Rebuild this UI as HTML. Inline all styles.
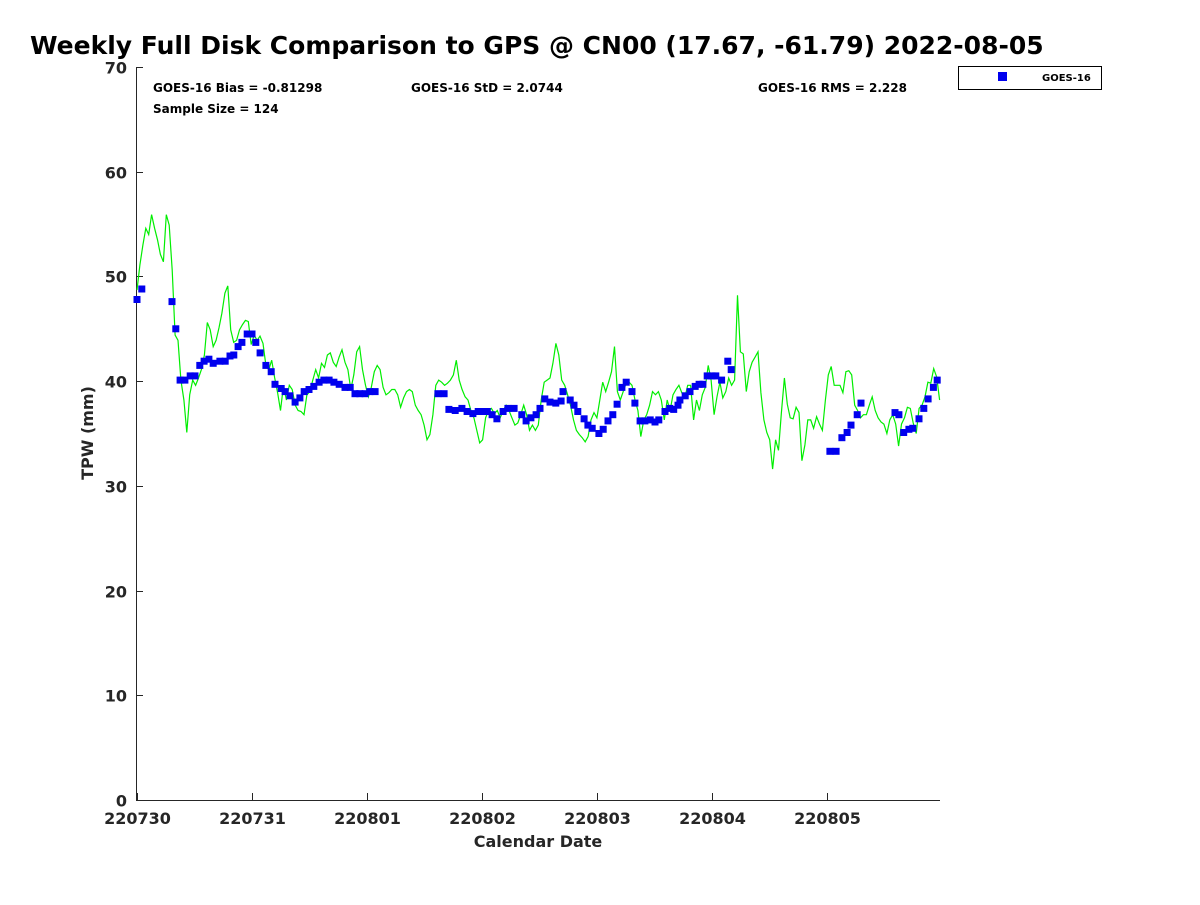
<!DOCTYPE html>
<html><head><meta charset="utf-8"><style>
body{margin:0;background:#fff;}
svg text{font-family:"DejaVu Sans","Liberation Sans",sans-serif;font-weight:bold;}
</style></head><body>
<svg id="chart" width="1200" height="900" xmlns="http://www.w3.org/2000/svg">
<rect width="1200" height="900" fill="#fff"/>
<text x="30" y="54" font-size="25" fill="#000">Weekly Full Disk Comparison to GPS @ CN00 (17.67, -61.79) 2022-08-05</text>
<g id="axes"></g>
<g id="series"></g>
<text x="153" y="92" font-size="12">GOES-16 Bias = -0.81298</text>
<text x="153" y="113" font-size="12">Sample Size = 124</text>
<text x="411" y="92" font-size="12">GOES-16 StD = 2.0744</text>
<text x="758" y="92" font-size="12">GOES-16 RMS = 2.228</text>
<g>
<rect x="958.5" y="66.5" width="143" height="23" fill="#fff" stroke="#000" stroke-width="1"/>
<rect x="998" y="72" width="9" height="9" fill="#0000ee"/>
<text x="1042" y="81" font-size="10">GOES-16</text>
</g>
<text x="538" y="847" font-size="16" text-anchor="middle" fill="#262626">Calendar Date</text>
<text transform="translate(93,433) rotate(-90)" font-size="16" text-anchor="middle" fill="#262626">TPW (mm)</text>
</svg>
<script>
const xTickLabels=["220730","220731","220801","220802","220803","220804","220805"];
const yTicks=[0,10,20,30,40,50,60,70];
const gpsSpanHours=167.5;
const gpsValues=[48.7,51.1,53.0,54.6,54.0,55.9,54.6,53.5,52.1,51.4,55.9,54.9,50.6,44.4,43.9,40.1,38.2,35.1,38.7,40.1,39.6,40.3,41.1,42.5,45.6,44.9,43.3,43.9,45.1,46.5,48.4,49.1,44.9,43.7,43.9,44.9,45.4,45.8,45.7,43.5,44.4,43.9,44.3,43.6,41.5,41.1,42.0,40.3,38.9,37.2,39.6,38.2,39.6,39.2,37.7,37.2,37.1,36.8,38.7,39.0,40.1,41.1,40.3,41.7,41.3,42.5,42.7,41.8,41.4,42.3,43.0,41.8,41.1,39.2,40.6,42.8,43.3,41.1,39.6,38.5,39.4,40.9,41.5,41.1,39.4,38.7,38.9,39.2,39.2,38.7,37.5,38.4,39.0,39.2,39.0,37.7,37.2,36.8,35.8,34.4,34.9,36.8,39.6,40.1,39.9,39.6,39.8,40.1,40.6,42.0,40.1,39.2,38.5,38.2,37.2,36.5,35.3,34.1,34.4,36.5,37.2,37.4,36.9,37.2,36.5,37.2,37.7,37.2,36.5,35.8,36.0,36.8,37.7,36.8,35.3,35.8,35.3,35.8,38.2,39.9,40.1,40.3,41.7,43.6,42.5,40.1,39.6,38.7,37.7,36.3,35.3,34.9,34.6,34.2,34.7,36.3,37.0,36.5,38.2,39.9,39.0,39.9,40.9,43.3,39.0,38.2,39.0,39.8,39.9,39.6,38.2,37.2,34.7,36.3,36.8,37.7,39.0,38.7,39.0,38.2,36.3,38.2,37.2,38.7,39.2,39.6,38.9,38.4,39.6,39.6,36.3,38.2,37.2,38.7,39.4,41.5,40.1,36.8,38.5,39.9,38.4,39.0,40.3,39.6,40.1,48.2,42.8,42.6,39.0,40.9,41.8,42.3,42.8,38.9,36.3,35.1,34.4,31.6,34.4,33.4,37.0,40.3,37.8,36.5,36.4,37.5,37.0,32.4,33.9,36.3,36.3,35.5,36.6,35.9,35.3,38.2,40.6,41.4,39.6,39.6,39.6,38.9,40.9,41.0,40.6,37.7,37.2,36.5,36.8,36.8,37.7,38.5,37.2,36.5,36.1,35.9,35.0,36.3,36.8,35.9,33.8,35.9,36.5,37.5,37.4,36.0,35.0,37.4,37.7,38.5,39.9,39.8,41.2,40.4,38.2];
const goesHours=[0,1.0,7.3,8.1,9.0,10.0,11.1,12.1,13.1,14.0,15.0,15.9,17.3,18.4,19.4,20.2,21.1,21.9,23.0,24.0,24.8,25.7,26.9,28.0,28.8,30.1,30.9,31.9,33.0,34.0,34.9,35.9,36.9,38.0,39.0,40.1,41.1,42.2,43.4,44.5,45.5,46.5,47.6,48.6,49.7,62.8,64.1,65.1,66.4,67.8,68.9,70.1,71.2,72.0,73.1,74.1,75.1,76.4,77.4,78.7,80.3,81.2,82.2,83.3,84.1,85.1,86.2,87.4,88.5,88.9,90.4,91.2,92.0,93.3,94.1,95.0,96.4,97.3,98.3,99.3,100.2,101.2,102.1,103.3,103.9,105.0,106.0,107.1,108.1,108.9,110.2,111.2,112.0,112.9,113.3,114.4,115.4,116.5,117.3,118.1,119.0,120.0,120.8,122.0,123.3,124.0,144.6,145.9,147.1,148.2,149.0,150.3,151.1,158.2,159.0,160.0,161.1,161.9,163.2,164.2,165.1,166.2,167.0];
const goesValues=[47.8,48.8,47.6,45.0,40.1,40.1,40.5,40.5,41.5,41.9,42.1,41.7,41.9,41.9,42.4,42.5,43.3,43.7,44.5,44.5,43.7,42.7,41.5,40.9,39.7,39.3,39.0,38.6,38.0,38.4,39.0,39.2,39.5,39.9,40.1,40.1,39.9,39.7,39.4,39.4,38.8,38.8,38.8,39.0,39.0,38.8,38.8,37.3,37.2,37.4,37.1,36.9,37.1,37.1,37.1,36.8,36.4,37.1,37.4,37.4,36.8,36.2,36.5,36.8,37.4,38.3,38.0,37.9,38.1,39.0,38.2,37.7,37.1,36.4,35.8,35.5,35.0,35.4,36.2,36.8,37.8,39.4,39.9,39.0,37.9,36.2,36.2,36.3,36.1,36.3,37.1,37.4,37.3,37.7,38.2,38.6,39.0,39.5,39.7,39.7,40.5,40.5,40.5,40.1,41.9,41.1,33.3,33.3,34.6,35.1,35.8,36.8,37.9,37.0,36.8,35.1,35.4,35.5,36.4,37.4,38.3,39.4,40.1];

const NS="http://www.w3.org/2000/svg";
const L=136,R=940,T=67,B=800;
const xs=h=>137+h*(115/24);
const ys=v=>B-(v/70)*(B-T);
const axes=document.getElementById('axes'),series=document.getElementById('series');
function mk(tag,attrs,parent){const e=document.createElementNS(NS,tag);for(const k in attrs)e.setAttribute(k,attrs[k]);parent.appendChild(e);return e;}
let ax=mk('path',{d:`M${L+0.5},${T} V${B+0.5} H${R}`,fill:'none',stroke:'#262626','stroke-width':1},axes);


yTicks.forEach(v=>{
  const y=Math.round(ys(v))+0.5;
  const t=mk('line',{x1:L,x2:L+7,y1:y,y2:y,stroke:'#262626'},axes);
  
  
  const tx=mk('text',{x:127,y:y+6,'font-size':16,'text-anchor':'end',fill:'#262626'},axes);
  tx.textContent=v;
  
  
});
xTickLabels.forEach((lab,i)=>{
  const x=Math.round(xs(i*24))+0.5;
  const t=mk('line',{x1:x,x2:x,y1:B,y2:B-7,stroke:'#262626'},axes);
  
  
  const tx=mk('text',{x:x,y:824,'font-size':16,'text-anchor':'middle',fill:'#262626'},axes);
  tx.textContent=lab;
  
  
});
const n=gpsValues.length;
const pts=gpsValues.map((v,i)=>xs(i*gpsSpanHours/(n-1)).toFixed(1)+','+ys(v).toFixed(1)).join(' ');
const line=mk('polyline',{points:pts,fill:'none',stroke:'#00ee00','stroke-width':1.2},series);


goesHours.forEach((h,i)=>{
  const r=mk('rect',{x:(xs(h)-3.5).toFixed(1),y:(ys(goesValues[i])-3.5).toFixed(1),width:7,height:7,fill:'#0000ee'},series);
  
  
});
</script>
</body></html>
